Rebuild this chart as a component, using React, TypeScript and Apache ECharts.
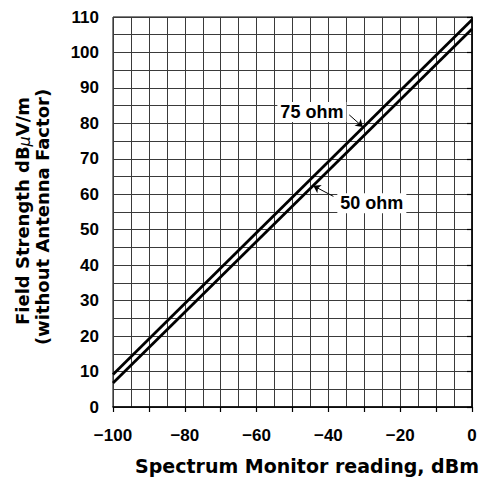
import React, { useEffect, useRef } from "react";
import * as echarts from "echarts";

const xValues = [-100, 0];
const ohm75 = [9.2, 109.2];
const ohm50 = [6.8, 106.6];
const xTicks = { min: -100, max: 0, step: 10, labelStep: 20 };
const yTicks = { min: 0, max: 110, step: 10 };
const label75 = { text: "75 ohm", at: [-44.6, 83.2], from: [-34.2, 82.4], to: [-30.4, 79.0] };
const label50 = { text: "50 ohm", at: [-27.9, 57.5], from: [-38.6, 59.4], to: [-44.2, 62.4] };

const FONT = '"Liberation Sans", Arial, Helvetica, sans-serif';
const TITLE_FONT = '"DejaVu Sans", "Liberation Sans", sans-serif';

export default function App() {
  const ref = useRef<HTMLDivElement>(null);
  useEffect(() => {
    document.body.style.margin = "0";
    const chart = echarts.init(ref.current!, null, { renderer: "svg" });
    const lineSeries = (name: string, vals: number[], lab: any) => ({
      name,
      type: "line",
      data: xValues.map((x, i) => [x, vals[i]]),
      symbol: "none",
      lineStyle: { color: "#000", width: 2.8 },
      z: 5,
      markPoint: {
        symbol: "rect",
        symbolSize: 0,
        silent: true,
        data: [{ coord: lab.at }],
        label: {
          show: true,
          position: "inside",
          formatter: lab.text,
          fontFamily: FONT,
          fontWeight: "bold",
          fontSize: 18,
          color: "#000",
          backgroundColor: "#fff",
          padding: [1, 3],
        },
      },
      markLine: {
        silent: true,
        symbol: ["none", "arrow"],
        symbolSize: 7,
        label: { show: false },
        lineStyle: { color: "#000", width: 1, type: "solid" },
        data: [[{ coord: lab.from }, { coord: lab.to }]],
      },
    });
    chart.setOption({
      animation: false,
      backgroundColor: "#fff",
      grid: { left: 113, right: 10, top: 17, bottom: 70, show: true, borderColor: "#000", borderWidth: 1 },
      xAxis: {
        type: "value",
        min: xTicks.min,
        max: xTicks.max,
        interval: xTicks.step,
        axisLine: { show: true, lineStyle: { color: "#000", width: 1.5 } },
        axisTick: { show: true, length: 5, lineStyle: { color: "#000", width: 1.2 } },
        axisLabel: {
          margin: 20,
          fontFamily: FONT,
          fontWeight: "bold",
          fontSize: 17,
          color: "#000",
          formatter: (v: number) => (v % xTicks.labelStep === 0 ? String(v).replace("-", "\u2212") : ""),
        },
        splitLine: { show: true, lineStyle: { color: "#3a3a3a", width: 1 } },
        minorTick: { show: false, splitNumber: 2 },
        minorSplitLine: { show: true, lineStyle: { color: "#3a3a3a", width: 1 } },
      },
      yAxis: {
        type: "value",
        min: yTicks.min,
        max: yTicks.max,
        interval: yTicks.step,
        axisLine: { show: true, lineStyle: { color: "#000", width: 1.5 } },
        axisTick: { show: true, length: 5, lineStyle: { color: "#000", width: 1.2 } },
        axisLabel: {
          margin: 14,
          fontFamily: FONT,
          fontWeight: "bold",
          fontSize: 17,
          color: "#000",
        },
        splitLine: { show: true, lineStyle: { color: "#3a3a3a", width: 1 } },
        minorTick: { show: false, splitNumber: 2 },
        minorSplitLine: { show: true, lineStyle: { color: "#3a3a3a", width: 1 } },
      },
      graphic: [
        {
          type: "text",
          x: 307,
          y: 466,
          style: {
            text: "Spectrum Monitor reading, dBm",
            fontFamily: TITLE_FONT,
            fontWeight: "bold",
            fontSize: 19,
            fill: "#000",
            align: "center",
            verticalAlign: "middle",
          },
        },
        {
          type: "text",
          x: 22,
          y: 211,
          rotation: Math.PI / 2,
          style: {
            text: "{a|Field Strength dB}{mu|\u03bc}{a|V/m}",
            align: "center",
            verticalAlign: "middle",
            rich: {
              a: { fontFamily: TITLE_FONT, fontWeight: "bold", fontSize: 18, fill: "#000" },
              mu: { fontFamily: TITLE_FONT, fontStyle: "italic", fontSize: 16, fill: "#000", padding: [5, 0, 0, 0] },
            },
          },
        },
        {
          type: "text",
          x: 42,
          y: 217,
          rotation: Math.PI / 2,
          style: {
            text: "(without Antenna Factor)",
            fontFamily: TITLE_FONT,
            fontWeight: "bold",
            fontSize: 18,
            fill: "#000",
            align: "center",
            verticalAlign: "middle",
          },
        },
      ],
      series: [lineSeries("75 ohm", ohm75, label75), lineSeries("50 ohm", ohm50, label50)],
    });
    return () => chart.dispose();
  }, []);
  return <div ref={ref} style={{ width: 482, height: 477 }} />;
}
